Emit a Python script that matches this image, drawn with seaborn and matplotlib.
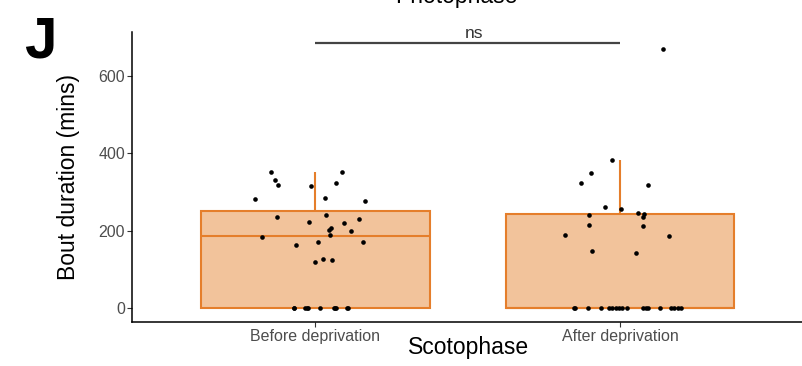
import numpy as np
import pandas as pd
import matplotlib
matplotlib.use("Agg")
import matplotlib.pyplot as plt
import seaborn as sns

# Bout durations (mins) per night, scotophase
categories = ["Before deprivation", "After deprivation"]

before_values = [352.6, 351.7, 331, 317, 315.6, 322.5, 282, 284.6, 277,
                 235.6, 241.6, 222.7, 220, 230.5, 207.2, 202, 199.5, 189,
                 183, 172, 172, 163, 126, 125.5, 120,
                 0, 0, 0, 0, 0, 0, 0, 0, 0, 0, 0]
before_jitter = [-0.146, 0.087, -0.132, -0.121, -0.015, 0.068, -0.197, 0.031, 0.163,
                 -0.127, 0.037, -0.020, 0.096, 0.144, 0.051, 0.044, 0.116, 0.049,
                 -0.173, 0.009, 0.156, -0.062, 0.027, 0.055, -0.002,
                 -0.071, -0.068, -0.032, -0.026, -0.023, 0.016, 0.062, 0.065,
                 0.068, 0.104, 0.107]

after_values = [383, 348, 322.6, 318, 261, 256, 241, 245, 244, 236, 215, 212,
                189, 187, 148, 143, 669,
                0, 0, 0, 0, 0, 0, 0, 0, 0, 0, 0, 0, 0, 0, 0, 0, 0, 0]
after_jitter = [-0.025, -0.095, -0.127, 0.090, -0.050, 0.002, -0.101, 0.059, 0.078,
                0.075, -0.103, 0.074, -0.182, 0.160, -0.091, 0.053, 0.140,
                -0.151, -0.148, -0.104, -0.061, -0.035, -0.025, -0.015, -0.005,
                0.005, 0.024, 0.076, 0.086, 0.092, 0.131, 0.167, 0.177, 0.190, 0.199]

yticks = [0, 200, 400, 600]
bracket_y = 685
bracket_label = "ns"

box_fill = "#F2C39B"
box_edge = "#E57E2B"
text_grey = "#4D4D4D"

df = pd.DataFrame({
    "group": [categories[0]] * len(before_values) + [categories[1]] * len(after_values),
    "duration": before_values + after_values,
    "jitter": before_jitter + after_jitter,
})
df["xpos"] = df["group"].map({c: i for i, c in enumerate(categories)}) + df["jitter"]

sns.set_style("ticks")
plt.rcParams["font.family"] = ["Liberation Sans", "DejaVu Sans"]
plt.rcParams["text.color"] = "black"

fig = plt.figure(figsize=(8.03, 3.66), dpi=100)
ax = fig.add_axes([132.3 / 803, 1 - 321.7 / 366, 1 - 132.3 / 803, (321.7 - 31.7) / 366])

sns.boxplot(data=df, x="group", y="duration", order=categories, ax=ax,
            width=0.75, saturation=1, showfliers=False, showcaps=False,
            color=box_fill, linecolor=box_edge, linewidth=1.5)

sns.scatterplot(data=df, x="xpos", y="duration", ax=ax, color="black",
                s=11, linewidth=0, legend=False, zorder=3)

# significance bracket
ax.plot([0, 1], [bracket_y, bracket_y], color="#444444", lw=1.6, solid_capstyle="butt",
        clip_on=False)
ax.text(0.52, bracket_y + 12, bracket_label, ha="center", va="baseline",
        fontsize=12.5, color="#333333")

ax.set_xlim(-0.6, 1.6)
ax.set_ylim(-34.6, 713)
ax.set_yticks(yticks)

ax.set_xlabel("Scotophase", fontsize=16.5, color="black")
ax.set_ylabel("Bout duration (mins)", fontsize=16.5, color="black")
ax.xaxis.set_label_coords(0.502, -0.05)
ax.yaxis.set_label_coords(-0.078, 0.5)

ax.tick_params(axis="both", labelsize=11.5, labelcolor=text_grey, color="#333333",
               length=3.6, width=0.8, pad=1.5)
sns.despine(ax=ax)
for side in ("left", "bottom"):
    ax.spines[side].set_color("black")
    ax.spines[side].set_linewidth(1.1)

fig.text(24 / 803, 1 - 57 / 366, "J", fontsize=42, fontweight="bold", ha="left",
         va="baseline", color="black")
fig.text(456 / 803, 1 - 2.7 / 366, "Photophase", fontsize=16.5, ha="center",
         va="baseline", color="black")

fig.savefig("out.png", dpi=100)
